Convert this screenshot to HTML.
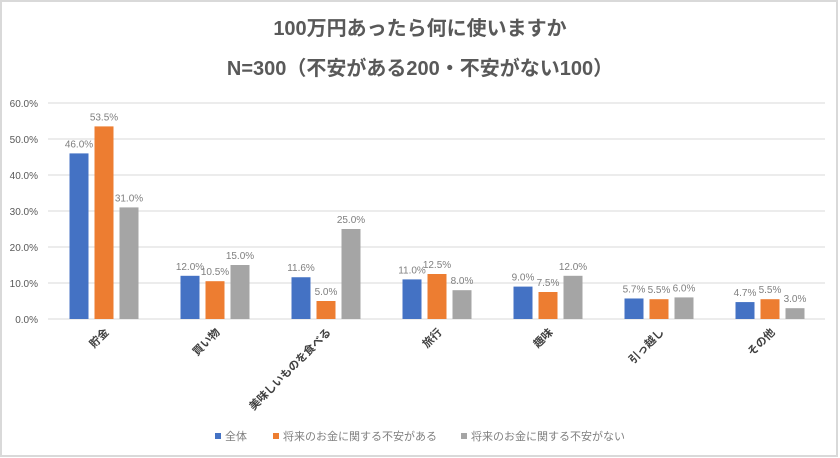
<!DOCTYPE html>
<html><head><meta charset="utf-8">
<style>
body{margin:0;background:#fff;}
svg{display:block;font-family:"Liberation Sans","Noto Sans CJK JP",sans-serif;}
</style></head>
<body>
<svg id="chart" width="840" height="458" viewBox="0 0 840 458">
<rect x="1" y="1" width="836" height="455" fill="#fff" stroke="#d9d9d9" stroke-width="2"/>
<text x="420" y="35" text-anchor="middle" font-size="20" font-weight="bold" fill="#595959">100万円あったら何に使いますか</text>
<text x="420" y="75" text-anchor="middle" font-size="20" font-weight="bold" fill="#595959">N=300（不安がある200・不安がない100）</text>
<g id="grid"></g><g id="bars"></g><g id="labels"></g>
<g font-size="11" fill="#7f7f7f">
<rect x="215" y="433" width="6" height="6" fill="#4472c4"/>
<text x="225" y="440">全体</text>
<rect x="273" y="433" width="6" height="6" fill="#ed7d31"/>
<text x="283" y="440">将来のお金に関する不安がある</text>
<rect x="461" y="433" width="6" height="6" fill="#a5a5a5"/>
<text x="471" y="440">将来のお金に関する不安がない</text>
</g>
</svg>
<script>
const categories=["貯金","買い物","美味しいものを食べる","旅行","趣味","引っ越し","その他"];
const seriesAll=[46.0,12.0,11.6,11.0,9.0,5.7,4.7];
const seriesAnxious=[53.5,10.5,5.0,12.5,7.5,5.5,5.5];
const seriesNotAnxious=[31.0,15.0,25.0,8.0,12.0,6.0,3.0];
const yTicks=[0,10,20,30,40,50,60];
const NS="http://www.w3.org/2000/svg";
const x0=48,x1=825,yBase=319,pxPer=3.6;
const groupW=(x1-x0)/categories.length;
function y(v){return yBase-v*pxPer;}
function mk(tag,attrs,parent){const e=document.createElementNS(NS,tag);for(const k in attrs)e.setAttribute(k,attrs[k]);parent.appendChild(e);return e;}
const grid=document.getElementById('grid'),bars=document.getElementById('bars'),labels=document.getElementById('labels');
yTicks.forEach(t=>{
  const l=mk('line',{x1:x0,x2:x1,y1:y(t),y2:y(t),stroke:'#d9d9d9','stroke-width':1},grid);
  
  
  const tx=mk('text',{x:38,y:y(t)+4,'text-anchor':'end','font-size':10,fill:'#595959'},grid);
  tx.textContent=t.toFixed(1)+'%';
  
  
});
const series=[[seriesAll,'#4472c4','all'],[seriesAnxious,'#ed7d31','anxious'],[seriesNotAnxious,'#a5a5a5','not-anxious']];
categories.forEach((c,i)=>{
  const cx=x0+groupW*(i+0.5);
  series.forEach((s,j)=>{
    const v=s[0][i],bx=cx-34+j*25;
    const r=mk('rect',{x:bx,y:y(v),width:19,height:v*pxPer,fill:s[1]},bars);
    
    
    const t=mk('text',{x:bx+9.5,y:y(v)-6,'text-anchor':'middle','font-size':10,fill:'#7f7f7f'},bars);
    t.textContent=v.toFixed(1)+'%';
    
    
  });
  const lt=mk('text',{x:cx+6,y:333,'text-anchor':'end','font-size':11,'font-weight':'bold',fill:'#404040',transform:'rotate(-45 '+(cx+6)+' 333)'},labels);
  lt.textContent=c;
  
  
});
</script>
</body></html>
